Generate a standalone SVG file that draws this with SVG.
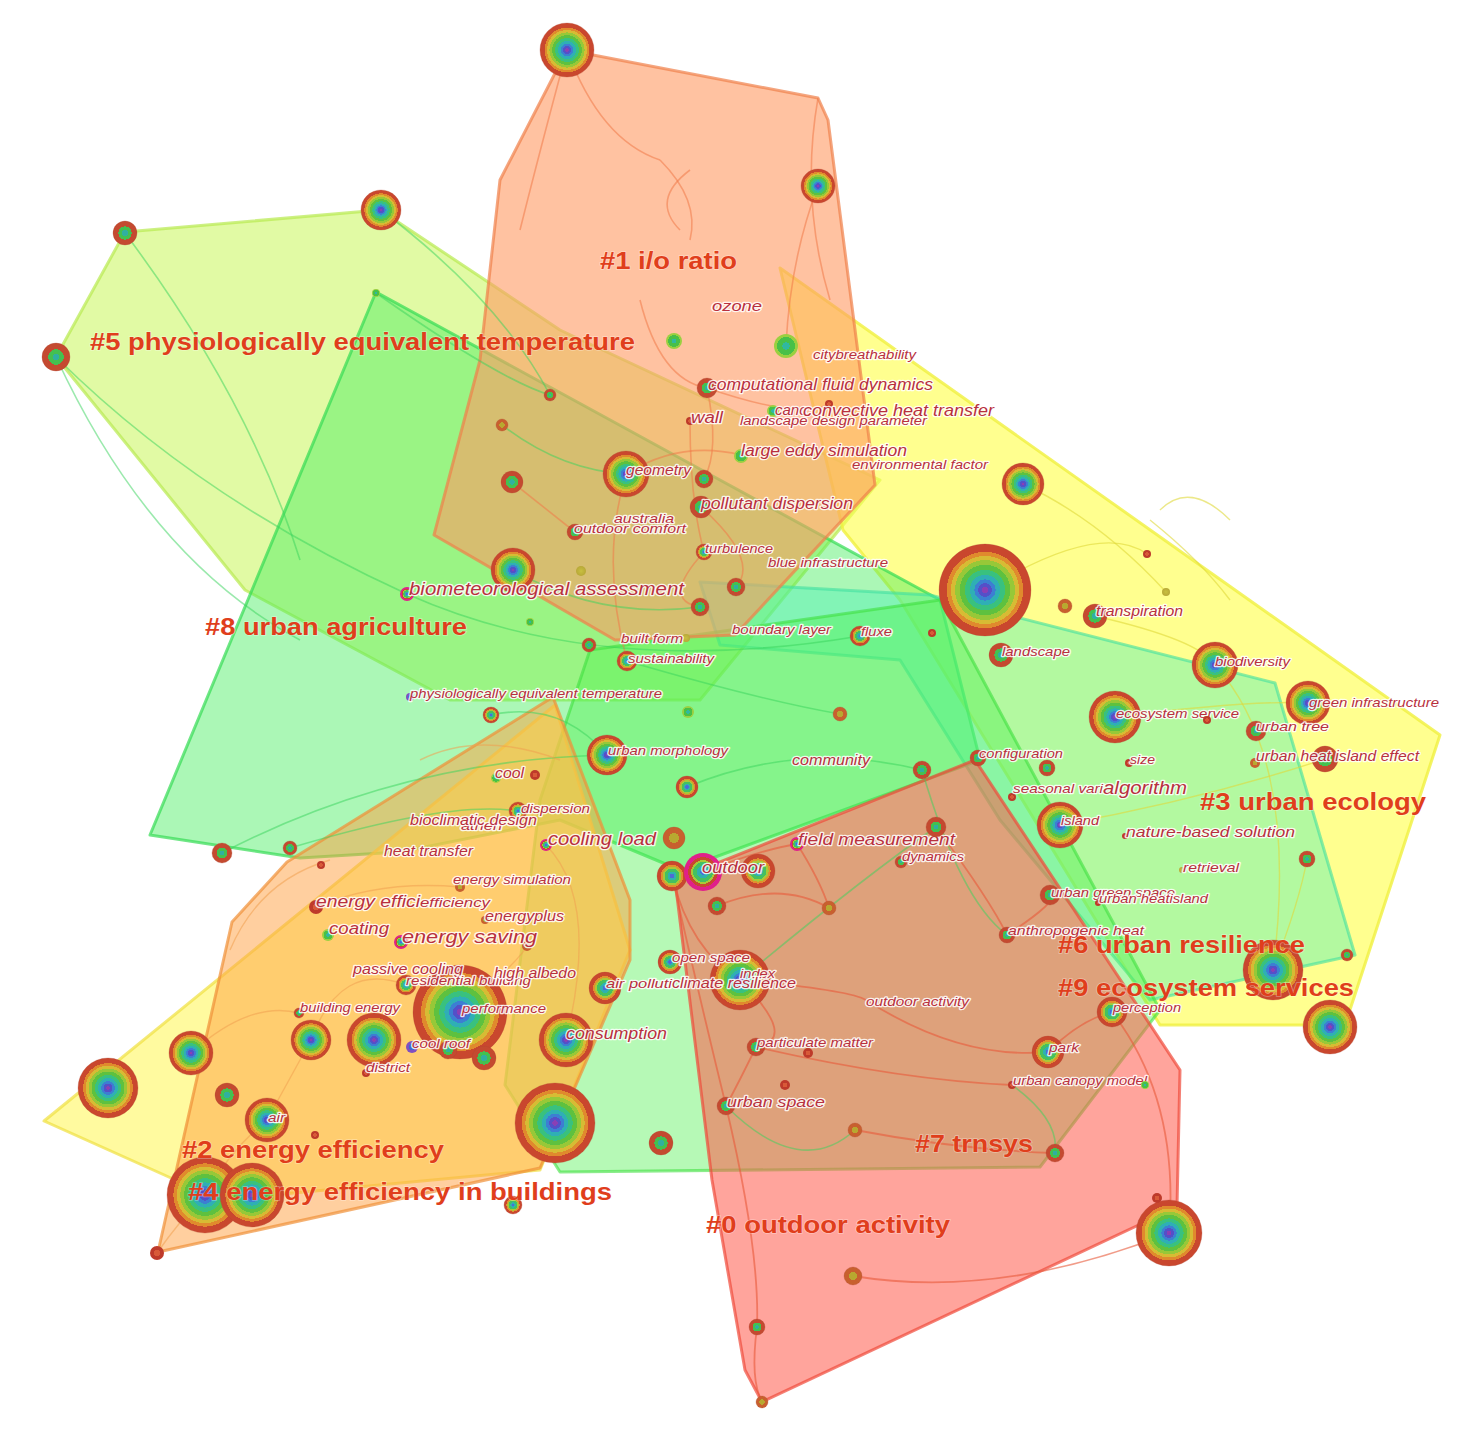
<svg xmlns="http://www.w3.org/2000/svg" width="1484" height="1451" viewBox="0 0 1484 1451">
<defs>
<style>
.nl{font-family:"Liberation Sans",Arial,sans-serif;font-style:italic;fill:#B8303E;stroke:#ffffff;stroke-opacity:.85;stroke-width:2.6px;paint-order:stroke;stroke-linejoin:round}
.cl{font-family:"Liberation Sans",Arial,sans-serif;font-weight:bold;font-size:24px;fill:#E03E1C;stroke:#ffffff;stroke-opacity:.35;stroke-width:1.5px;paint-order:stroke}
.poly{stroke-width:3;stroke-linejoin:round}
.lo{fill:none;stroke:#F07A48;stroke-opacity:.55;stroke-width:1.6}
.lg{fill:none;stroke:#38D45C;stroke-opacity:.5;stroke-width:1.6}
.ly{fill:none;stroke:#E0D83A;stroke-opacity:.6;stroke-width:1.4}
.lr{fill:none;stroke:#E85A3A;stroke-opacity:.6;stroke-width:1.8}
.la{fill:none;stroke:#F0A050;stroke-opacity:.55;stroke-width:1.4}
.nd{stroke:#B04030;stroke-opacity:.35;stroke-width:.8}
</style>
<radialGradient id="gBig">
<stop offset="0" stop-color="#8A3FB5"/><stop offset=".07" stop-color="#8A3FB5"/>
<stop offset=".07" stop-color="#5450C8"/><stop offset=".15" stop-color="#5450C8"/>
<stop offset=".15" stop-color="#3C7FD2"/><stop offset=".23" stop-color="#3C7FD2"/>
<stop offset=".23" stop-color="#2FAFB5"/><stop offset=".33" stop-color="#2FAFB5"/>
<stop offset=".33" stop-color="#39C17E"/><stop offset=".44" stop-color="#39C17E"/>
<stop offset=".44" stop-color="#5EC13F"/><stop offset=".55" stop-color="#5EC13F"/>
<stop offset=".55" stop-color="#97C838"/><stop offset=".65" stop-color="#97C838"/>
<stop offset=".65" stop-color="#D7BB34"/><stop offset=".74" stop-color="#D7BB34"/>
<stop offset=".74" stop-color="#E08A2D"/><stop offset=".83" stop-color="#E08A2D"/>
<stop offset=".83" stop-color="#C9472E"/><stop offset="1" stop-color="#C9472E"/>
</radialGradient>
<radialGradient id="gMid">
<stop offset="0" stop-color="#4D6BD6"/><stop offset=".15" stop-color="#4D6BD6"/>
<stop offset=".15" stop-color="#2FB0B0"/><stop offset=".3" stop-color="#2FB0B0"/>
<stop offset=".3" stop-color="#45C060"/><stop offset=".5" stop-color="#45C060"/>
<stop offset=".5" stop-color="#A8C838"/><stop offset=".62" stop-color="#A8C838"/>
<stop offset=".62" stop-color="#E0902E"/><stop offset=".74" stop-color="#E0902E"/>
<stop offset=".74" stop-color="#C9472E"/><stop offset="1" stop-color="#C9472E"/>
</radialGradient>
<radialGradient id="gMag">
<stop offset="0" stop-color="#4D6BD6"/><stop offset=".15" stop-color="#4D6BD6"/>
<stop offset=".15" stop-color="#2FB0B0"/><stop offset=".32" stop-color="#2FB0B0"/>
<stop offset=".32" stop-color="#45C060"/><stop offset=".52" stop-color="#45C060"/>
<stop offset=".52" stop-color="#A8C838"/><stop offset=".62" stop-color="#A8C838"/>
<stop offset=".62" stop-color="#C9472E"/><stop offset=".78" stop-color="#C9472E"/>
<stop offset=".78" stop-color="#E0208A"/><stop offset="1" stop-color="#E0208A"/>
</radialGradient>
<radialGradient id="gSmall">
<stop offset="0" stop-color="#30B0A0"/><stop offset=".25" stop-color="#30B0A0"/>
<stop offset=".25" stop-color="#44C050"/><stop offset=".55" stop-color="#44C050"/>
<stop offset=".55" stop-color="#C44A30"/><stop offset="1" stop-color="#C44A30"/>
</radialGradient>
<radialGradient id="gGreen">
<stop offset="0" stop-color="#30B8A0"/><stop offset=".3" stop-color="#30B8A0"/>
<stop offset=".3" stop-color="#48C048"/><stop offset=".75" stop-color="#48C048"/>
<stop offset=".75" stop-color="#9AD040"/><stop offset="1" stop-color="#9AD040"/>
</radialGradient>
<radialGradient id="gRed">
<stop offset="0" stop-color="#D85A38"/><stop offset=".5" stop-color="#D85A38"/>
<stop offset=".5" stop-color="#BE3A2A"/><stop offset="1" stop-color="#BE3A2A"/>
</radialGradient>
<radialGradient id="gOrange">
<stop offset="0" stop-color="#B8A830"/><stop offset=".45" stop-color="#B8A830"/>
<stop offset=".45" stop-color="#C8602E"/><stop offset="1" stop-color="#C8602E"/>
</radialGradient>
<radialGradient id="gOlive">
<stop offset="0" stop-color="#C8C040"/><stop offset="1" stop-color="#B8A838"/>
</radialGradient>
<radialGradient id="gBlue">
<stop offset="0" stop-color="#3C68D0"/><stop offset=".5" stop-color="#3C68D0"/>
<stop offset=".5" stop-color="#8050C0"/><stop offset="1" stop-color="#8050C0"/>
</radialGradient>
</defs>
<rect width="1484" height="1451" fill="#ffffff"/>

<g id="clusters">
<g id="cluster-5"><polygon class="poly" fill="#C8F55A" fill-opacity=".55" stroke="#B8EA50" stroke-opacity=".7" points="125,232 380,210 560,330 880,480 700,700 450,700 245,590 56,357"/></g>
<g id="cluster-3"><polygon class="poly" fill="#FFFF4A" fill-opacity=".62" stroke="#F0F040" stroke-opacity=".8" points="780,268 1440,735 1345,1025 1160,1025 900,600 843,530"/></g>
<g id="cluster-8"><polygon class="poly" fill="#44EE5E" fill-opacity=".45" stroke="#34DC54" stroke-opacity=".7" points="376,292 720,480 940,600 980,760 680,870 560,820 400,852 300,858 150,835"/></g>
<g id="cluster-6"><polygon class="poly" fill="#4AF0B8" fill-opacity=".42" stroke="#40E0A0" stroke-opacity=".6" points="700,582 930,595 1275,683 1355,955 1150,1000 1000,820 900,660 720,645"/></g>
<g id="cluster-7"><polygon class="poly" fill="#50F050" fill-opacity=".42" stroke="#40E040" stroke-opacity=".6" points="590,650 940,600 1160,1010 1040,1167 560,1172 505,1085 540,800"/></g>
<g id="cluster-4"><polygon class="poly" fill="#FFF550" fill-opacity=".55" stroke="#F0E040" stroke-opacity=".7" points="44,1121 555,705 630,950 540,1170 220,1200"/></g>
<g id="cluster-2"><polygon class="poly" fill="#FFA040" fill-opacity=".5" stroke="#F09038" stroke-opacity=".7" points="232,922 287,862 553,697 630,900 630,960 540,1168 158,1252"/></g>
<g id="cluster-0"><polygon class="poly" fill="#FF5A4A" fill-opacity=".55" stroke="#F04A3A" stroke-opacity=".7" points="675,880 975,760 1180,1070 1177,1207 762,1402 745,1370 712,1180"/></g>
<g id="cluster-1"><polygon class="poly" fill="#FF9A62" fill-opacity=".6" stroke="#F0804A" stroke-opacity=".7" points="567,50 818,98 828,120 875,485 735,635 615,640 434,535 480,360 500,180"/></g>
</g>

<g id="connectors">
<path class="lo" d="M567,50 Q540,150 520,230"/>
<path class="lo" d="M567,50 Q600,140 660,160"/>
<path class="lo" d="M660,160 Q700,200 690,240"/>
<path class="lo" d="M690,170 Q650,200 680,230"/>
<path class="lo" d="M640,300 Q660,380 707,388"/>
<path class="lo" d="M707,388 Q720,450 704,479"/>
<path class="lo" d="M626,474 Q680,440 741,455"/>
<path class="lo" d="M701,507 Q760,560 736,587"/>
<path class="lo" d="M818,186 Q790,260 786,346"/>
<path class="lo" d="M707,388 Q800,420 829,404"/>
<path class="lo" d="M512,482 Q560,520 575,532"/>
<path class="lo" d="M626,474 Q600,560 627,661"/>
<path class="lo" d="M704,552 Q660,600 700,607"/>
<path class="lo" d="M690,421 Q690,500 704,552"/>
<path class="lo" d="M818,98 Q800,200 830,300"/>
<path class="lg" d="M376,293 Q500,380 550,395"/>
<path class="lg" d="M502,425 Q560,470 626,474"/>
<path class="lg" d="M56,357 Q200,500 407,594"/>
<path class="lg" d="M125,233 Q250,400 300,560"/>
<path class="lg" d="M381,210 Q500,300 550,395"/>
<path class="lg" d="M513,570 Q600,620 700,607"/>
<path class="lg" d="M491,715 Q560,700 607,755"/>
<path class="lg" d="M407,594 Q600,680 860,636"/>
<path class="lg" d="M627,661 Q760,700 840,714"/>
<path class="lg" d="M222,853 Q400,760 607,755"/>
<path class="lg" d="M687,787 Q800,740 922,770"/>
<path class="lg" d="M290,848 Q450,800 518,811"/>
<path class="lg" d="M56,357 Q150,560 300,640"/>
<path class="lg" d="M740,980 Q860,880 936,827"/>
<path class="lg" d="M922,770 Q960,900 1007,935"/>
<path class="lg" d="M726,1106 Q800,1180 855,1130"/>
<path class="lg" d="M1012,1085 Q1060,1120 1055,1153"/>
<path class="ly" d="M985,590 Q1100,520 1147,554"/>
<path class="ly" d="M1023,484 Q1100,520 1166,592"/>
<path class="ly" d="M1095,616 Q1200,640 1215,665"/>
<path class="ly" d="M1115,717 Q1250,700 1308,703"/>
<path class="ly" d="M1060,825 Q1200,800 1325,759"/>
<path class="ly" d="M1273,970 Q1300,900 1307,859"/>
<path class="ly" d="M1150,520 Q1200,560 1230,600"/>
<path class="ly" d="M1160,510 Q1190,480 1230,520"/>
<path class="ly" d="M1215,665 Q1300,760 1273,970"/>
<path class="lr" d="M672,876 Q690,950 740,980"/>
<path class="lr" d="M703,872 Q760,850 797,844"/>
<path class="lr" d="M797,844 Q820,880 829,908"/>
<path class="lr" d="M717,906 Q780,880 829,908"/>
<path class="lr" d="M740,980 Q800,1040 756,1047"/>
<path class="lr" d="M756,1047 Q740,1080 726,1106"/>
<path class="lr" d="M726,1106 Q760,1250 757,1327"/>
<path class="lr" d="M757,1327 Q750,1380 762,1402"/>
<path class="lr" d="M866,1000 Q960,1060 1048,1052"/>
<path class="lr" d="M1048,1052 Q1080,1020 1112,1012"/>
<path class="lr" d="M1112,1012 Q1180,1100 1169,1233"/>
<path class="lr" d="M855,1130 Q960,1150 1055,1153"/>
<path class="lr" d="M740,980 Q850,990 866,1000"/>
<path class="lr" d="M756,1047 Q900,1080 1012,1085"/>
<path class="lr" d="M672,876 Q700,1000 726,1106"/>
<path class="lr" d="M1007,935 Q1060,900 1050,895"/>
<path class="lr" d="M936,827 Q990,900 1007,935"/>
<path class="lr" d="M1169,1233 Q1000,1300 853,1276"/>
<path class="la" d="M316,907 Q380,880 460,887"/>
<path class="la" d="M311,1040 Q340,960 406,985"/>
<path class="la" d="M460,1012 Q520,960 527,946"/>
<path class="la" d="M267,1120 Q300,1060 311,1040"/>
<path class="la" d="M191,1053 Q250,1000 299,1013"/>
<path class="la" d="M205,1195 Q230,1150 267,1120"/>
<path class="la" d="M157,1253 Q180,1220 205,1195"/>
<path class="la" d="M230,950 Q260,880 330,860"/>
<path class="la" d="M420,760 Q480,730 560,760"/>
<path class="la" d="M546,845 Q600,900 566,1040"/>
</g>

<g id="nodes">
<g id="n1"><circle class="nd" cx="567" cy="50" r="27" fill="url(#gBig)"/></g>
<g id="n2"><circle class="nd" cx="818" cy="186" r="17" fill="url(#gBig)"/></g>
<g id="n3"><circle class="nd" cx="381" cy="210" r="20" fill="url(#gBig)"/></g>
<g id="n4"><circle class="nd" cx="125" cy="233" r="12" fill="url(#gSmall)"/></g>
<g id="n5"><circle class="nd" cx="56" cy="357" r="14" fill="url(#gSmall)"/></g>
<g id="n6"><circle cx="376" cy="293" r="4" fill="url(#gGreen)"/></g>
<g id="n7"><circle cx="674" cy="341" r="8" fill="url(#gGreen)"/></g>
<g id="n8"><circle cx="786" cy="346" r="12" fill="url(#gGreen)"/></g>
<g id="n-ozone"><text class="nl" x="712" y="311" font-size="15" textLength="50" lengthAdjust="spacingAndGlyphs">ozone</text></g>
<g id="n-citybreathability"><text class="nl" x="813" y="359" font-size="12.5" textLength="103" lengthAdjust="spacingAndGlyphs">citybreathability</text></g>
<g id="n9"><circle class="nd" cx="707" cy="388" r="10" fill="url(#gSmall)"/><text class="nl" x="708" y="390" font-size="16.5" textLength="225" lengthAdjust="spacingAndGlyphs">computational fluid dynamics</text></g>
<g id="n11"><circle cx="829" cy="404" r="4" fill="url(#gRed)"/></g>
<g id="n12"><circle cx="773" cy="411" r="6" fill="url(#gGreen)"/><text class="nl" x="775" y="415" font-size="15">canc</text></g>
<g id="n-convective"><text class="nl" x="803" y="416" font-size="16.5" textLength="191" lengthAdjust="spacingAndGlyphs">convective heat transfer</text></g>
<g id="n10"><circle cx="690" cy="421" r="4" fill="url(#gRed)"/><text class="nl" x="691" y="423" font-size="16" textLength="32" lengthAdjust="spacingAndGlyphs">wall</text></g>
<g id="n-ldp"><text class="nl" x="740" y="425" font-size="12.5" textLength="187" lengthAdjust="spacingAndGlyphs">landscape design parameter</text></g>
<g id="n13"><circle cx="741" cy="456" r="7" fill="url(#gGreen)"/><text class="nl" x="741" y="456" font-size="16" textLength="166" lengthAdjust="spacingAndGlyphs">large eddy simulation</text></g>
<g id="n-envfactor"><text class="nl" x="852" y="469" font-size="13" textLength="136" lengthAdjust="spacingAndGlyphs">environmental factor</text></g>
<g id="n14"><circle class="nd" cx="550" cy="395" r="6" fill="url(#gSmall)"/></g>
<g id="n15"><circle class="nd" cx="502" cy="425" r="6" fill="url(#gOrange)"/></g>
<g id="n16"><circle class="nd" cx="512" cy="482" r="11" fill="url(#gSmall)"/></g>
<g id="n17"><circle class="nd" cx="626" cy="474" r="23" fill="url(#gBig)"/><text class="nl" x="626" y="475" font-size="14" textLength="65" lengthAdjust="spacingAndGlyphs">geometry</text></g>
<g id="n18"><circle class="nd" cx="704" cy="479" r="9" fill="url(#gSmall)"/></g>
<g id="n19"><circle class="nd" cx="701" cy="507" r="11" fill="url(#gSmall)"/><text class="nl" x="701" y="509" font-size="16" textLength="152" lengthAdjust="spacingAndGlyphs">pollutant dispersion</text></g>
<g id="n20"><circle class="nd" cx="1023" cy="484" r="21" fill="url(#gBig)"/></g>
<g id="n-australia"><text class="nl" x="614" y="523" font-size="13" textLength="60" lengthAdjust="spacingAndGlyphs">australia</text></g>
<g id="n21"><circle class="nd" cx="575" cy="532" r="8" fill="url(#gSmall)"/><text class="nl" x="574" y="533" font-size="13" textLength="112" lengthAdjust="spacingAndGlyphs">outdoor comfort</text></g>
<g id="n22"><circle class="nd" cx="704" cy="552" r="8" fill="url(#gMid)"/><text class="nl" x="705" y="553" font-size="13" textLength="68" lengthAdjust="spacingAndGlyphs">turbulence</text></g>
<g id="n-blueinfra"><text class="nl" x="768" y="567" font-size="13" textLength="120" lengthAdjust="spacingAndGlyphs">blue infrastructure</text></g>
<g id="n23"><circle class="nd" cx="513" cy="570" r="22" fill="url(#gBig)"/></g>
<g id="n24"><circle cx="581" cy="571" r="5" fill="url(#gOlive)"/></g>
<g id="n25"><circle class="nd" cx="736" cy="587" r="9" fill="url(#gSmall)"/></g>
<g id="n26"><circle class="nd" cx="700" cy="607" r="9" fill="url(#gSmall)"/></g>
<g id="n27"><circle cx="407" cy="594" r="7" fill="url(#gMag)"/><text class="nl" x="409" y="595" font-size="18" textLength="275" lengthAdjust="spacingAndGlyphs">biometeorological assessment</text></g>
<g id="n28"><circle cx="530" cy="622" r="4" fill="url(#gGreen)"/></g>
<g id="n29"><circle class="nd" cx="589" cy="645" r="7" fill="url(#gSmall)"/></g>
<g id="n31"><circle cx="686" cy="638" r="4" fill="url(#gOlive)"/><text class="nl" x="621" y="643" font-size="13" textLength="62" lengthAdjust="spacingAndGlyphs">built form</text></g>
<g id="n-boundary"><text class="nl" x="732" y="634" font-size="13" textLength="99" lengthAdjust="spacingAndGlyphs">boundary layer</text></g>
<g id="n30"><circle class="nd" cx="627" cy="661" r="10" fill="url(#gMid)"/><text class="nl" x="628" y="663" font-size="13" textLength="86" lengthAdjust="spacingAndGlyphs">sustainability</text></g>
<g id="n32"><circle class="nd" cx="860" cy="636" r="10" fill="url(#gMid)"/><text class="nl" x="861" y="636" font-size="13" textLength="31" lengthAdjust="spacingAndGlyphs">fluxe</text></g>
<g id="n33"><circle cx="932" cy="633" r="4" fill="url(#gRed)"/></g>
<g id="n34"><circle class="nd" cx="985" cy="590" r="46" fill="url(#gBig)"/></g>
<g id="n35"><circle class="nd" cx="1065" cy="606" r="7" fill="url(#gOrange)"/></g>
<g id="n36"><circle class="nd" cx="1095" cy="616" r="12" fill="url(#gSmall)"/><text class="nl" x="1096" y="616" font-size="14" textLength="87" lengthAdjust="spacingAndGlyphs">transpiration</text></g>
<g id="n37"><circle cx="1147" cy="554" r="4" fill="url(#gRed)"/></g>
<g id="n38"><circle cx="1166" cy="592" r="4" fill="url(#gOlive)"/></g>
<g id="n39"><circle class="nd" cx="1001" cy="655" r="12" fill="url(#gSmall)"/><text class="nl" x="1002" y="656" font-size="13" textLength="68" lengthAdjust="spacingAndGlyphs">landscape</text></g>
<g id="n40"><circle class="nd" cx="1215" cy="665" r="23" fill="url(#gBig)"/><text class="nl" x="1215" y="666" font-size="13" textLength="75" lengthAdjust="spacingAndGlyphs">biodiversity</text></g>
<g id="n41"><circle class="nd" cx="1115" cy="717" r="26" fill="url(#gBig)"/><text class="nl" x="1116" y="718" font-size="13" textLength="123" lengthAdjust="spacingAndGlyphs">ecosystem service</text></g>
<g id="n42"><circle cx="1207" cy="720" r="4" fill="url(#gRed)"/></g>
<g id="n43"><circle class="nd" cx="1308" cy="703" r="22" fill="url(#gBig)"/><text class="nl" x="1309" y="707" font-size="13" textLength="130" lengthAdjust="spacingAndGlyphs">green infrastructure</text></g>
<g id="n44"><circle class="nd" cx="1256" cy="731" r="10" fill="url(#gSmall)"/><text class="nl" x="1256" y="731" font-size="13.5" textLength="73" lengthAdjust="spacingAndGlyphs">urban tree</text></g>
<g id="n46"><circle class="nd" cx="1325" cy="759" r="13" fill="url(#gSmall)"/></g>
<g id="n45"><circle cx="1255" cy="763" r="5" fill="url(#gOrange)"/><text class="nl" x="1256" y="761" font-size="14" textLength="163" lengthAdjust="spacingAndGlyphs">urban heat island effect</text></g>
<g id="n47"><circle class="nd" cx="978" cy="758" r="8" fill="url(#gSmall)"/><text class="nl" x="979" y="758" font-size="13" textLength="84" lengthAdjust="spacingAndGlyphs">configuration</text></g>
<g id="n48"><circle class="nd" cx="1047" cy="768" r="8" fill="url(#gSmall)"/></g>
<g id="n49"><circle cx="1129" cy="763" r="4" fill="url(#gRed)"/><text class="nl" x="1130" y="764" font-size="13" textLength="25" lengthAdjust="spacingAndGlyphs">size</text></g>
<g id="n50"><circle cx="1012" cy="797" r="4" fill="url(#gRed)"/><text class="nl" x="1013" y="793" font-size="13" textLength="90" lengthAdjust="spacingAndGlyphs">seasonal vari</text></g>
<g id="n-algorithm"><text class="nl" x="1103" y="794" font-size="18" textLength="84" lengthAdjust="spacingAndGlyphs">algorithm</text></g>
<g id="n51"><circle class="nd" cx="1060" cy="825" r="23" fill="url(#gBig)"/><text class="nl" x="1061" y="825" font-size="13" textLength="38" lengthAdjust="spacingAndGlyphs">island</text></g>
<g id="n52"><circle cx="1125" cy="836" r="3" fill="url(#gRed)"/><text class="nl" x="1126" y="837" font-size="15" textLength="169" lengthAdjust="spacingAndGlyphs">nature-based solution</text></g>
<g id="n53"><circle class="nd" cx="1307" cy="859" r="8" fill="url(#gSmall)"/></g>
<g id="n54"><circle cx="1182" cy="870" r="3" fill="url(#gOlive)"/><text class="nl" x="1183" y="872" font-size="13" textLength="56" lengthAdjust="spacingAndGlyphs">retrieval</text></g>
<g id="n55"><circle class="nd" cx="1050" cy="895" r="10" fill="url(#gSmall)"/><text class="nl" x="1051" y="897" font-size="13" textLength="124" lengthAdjust="spacingAndGlyphs">urban green space</text></g>
<g id="n56"><circle cx="1098" cy="903" r="3" fill="url(#gRed)"/><text class="nl" x="1099" y="903" font-size="13" textLength="109" lengthAdjust="spacingAndGlyphs">urban heatisland</text></g>
<g id="n57"><circle class="nd" cx="1007" cy="935" r="8" fill="url(#gSmall)"/><text class="nl" x="1008" y="935" font-size="13" textLength="136" lengthAdjust="spacingAndGlyphs">anthropogenic heat</text></g>
<g id="n58"><circle class="nd" cx="1273" cy="970" r="30" fill="url(#gBig)"/></g>
<g id="n59"><circle class="nd" cx="1347" cy="955" r="6" fill="url(#gSmall)"/></g>
<g id="n60"><circle class="nd" cx="1330" cy="1027" r="27" fill="url(#gBig)"/></g>
<g id="n61"><circle class="nd" cx="1112" cy="1012" r="15" fill="url(#gMid)"/><text class="nl" x="1113" y="1012" font-size="13" textLength="68" lengthAdjust="spacingAndGlyphs">perception</text></g>
<g id="n62"><circle class="nd" cx="1048" cy="1052" r="16" fill="url(#gMid)"/><text class="nl" x="1049" y="1052" font-size="13" textLength="30" lengthAdjust="spacingAndGlyphs">park</text></g>
<g id="n63"><circle cx="1012" cy="1085" r="4" fill="url(#gRed)"/><text class="nl" x="1013" y="1085" font-size="13" textLength="134" lengthAdjust="spacingAndGlyphs">urban canopy model</text></g>
<g id="n64"><circle cx="1145" cy="1085" r="4" fill="url(#gGreen)"/></g>
<g id="n65"><circle class="nd" cx="1169" cy="1233" r="33" fill="url(#gBig)"/></g>
<g id="n66"><circle cx="1157" cy="1198" r="5" fill="url(#gRed)"/></g>
<g id="n67"><circle class="nd" cx="853" cy="1276" r="9" fill="url(#gOrange)"/></g>
<g id="n68"><circle class="nd" cx="762" cy="1402" r="6" fill="url(#gOrange)"/></g>
<g id="n69"><circle class="nd" cx="757" cy="1327" r="8" fill="url(#gSmall)"/></g>
<g id="n70"><circle class="nd" cx="1055" cy="1153" r="9" fill="url(#gSmall)"/></g>
<g id="n71"><circle class="nd" cx="855" cy="1130" r="7" fill="url(#gOrange)"/></g>
<g id="n-outdooractivity"><text class="nl" x="866" y="1006" font-size="13" textLength="103" lengthAdjust="spacingAndGlyphs">outdoor activity</text></g>
<g id="n72"><circle class="nd" cx="726" cy="1106" r="9" fill="url(#gSmall)"/><text class="nl" x="727" y="1107" font-size="15.5" textLength="98" lengthAdjust="spacingAndGlyphs">urban space</text></g>
<g id="n73"><circle cx="785" cy="1085" r="5" fill="url(#gRed)"/></g>
<g id="n74"><circle class="nd" cx="756" cy="1047" r="9" fill="url(#gSmall)"/><text class="nl" x="757" y="1047" font-size="13" textLength="116" lengthAdjust="spacingAndGlyphs">particulate matter</text></g>
<g id="n75"><circle cx="808" cy="1053" r="5" fill="url(#gRed)"/></g>
<g id="n76"><circle class="nd" cx="740" cy="980" r="30" fill="url(#gBig)"/><text class="nl" x="740" y="978" font-size="13" textLength="35" lengthAdjust="spacingAndGlyphs">index</text></g>
<g id="n77"><circle class="nd" cx="670" cy="962" r="12" fill="url(#gMid)"/><text class="nl" x="672" y="962" font-size="13" textLength="78" lengthAdjust="spacingAndGlyphs">open space</text></g>
<g id="n78"><circle class="nd" cx="605" cy="988" r="16" fill="url(#gMid)"/><text class="nl" x="606" y="988" font-size="13" textLength="66" lengthAdjust="spacingAndGlyphs">air polluti</text></g>
<g id="n-climate"><text class="nl" x="672" y="988" font-size="14" textLength="124" lengthAdjust="spacingAndGlyphs">climate resilience</text></g>
<g id="n79"><circle class="nd" cx="717" cy="906" r="9" fill="url(#gSmall)"/></g>
<g id="n80"><circle class="nd" cx="829" cy="908" r="7" fill="url(#gOrange)"/></g>
<g id="n81"><circle class="nd" cx="672" cy="876" r="15" fill="url(#gMid)"/></g>
<g id="n83"><circle class="nd" cx="758" cy="871" r="17" fill="url(#gMid)"/></g>
<g id="n82"><circle cx="703" cy="872" r="19" fill="url(#gMag)"/><text class="nl" x="702" y="873" font-size="16" textLength="62" lengthAdjust="spacingAndGlyphs">outdoor</text></g>
<g id="n84"><circle cx="797" cy="844" r="7" fill="url(#gMag)"/><text class="nl" x="798" y="845" font-size="17" textLength="157" lengthAdjust="spacingAndGlyphs">field measurement</text></g>
<g id="n85"><circle class="nd" cx="901" cy="862" r="6" fill="url(#gSmall)"/><text class="nl" x="902" y="861" font-size="13" textLength="62" lengthAdjust="spacingAndGlyphs">dynamics</text></g>
<g id="n86"><circle class="nd" cx="936" cy="827" r="10" fill="url(#gSmall)"/></g>
<g id="n87"><circle class="nd" cx="922" cy="770" r="9" fill="url(#gSmall)"/></g>
<g id="n88"><circle class="nd" cx="840" cy="714" r="7" fill="url(#gOrange)"/></g>
<g id="n-community"><text class="nl" x="792" y="765" font-size="14" textLength="78" lengthAdjust="spacingAndGlyphs">community</text></g>
<g id="n89"><circle class="nd" cx="687" cy="787" r="11" fill="url(#gMid)"/></g>
<g id="n90"><circle class="nd" cx="607" cy="755" r="20" fill="url(#gBig)"/><text class="nl" x="608" y="755" font-size="13" textLength="120" lengthAdjust="spacingAndGlyphs">urban morphology</text></g>
<g id="n91"><circle cx="688" cy="712" r="6" fill="url(#gGreen)"/></g>
<g id="n92"><circle class="nd" cx="491" cy="715" r="8" fill="url(#gMid)"/></g>
<g id="n93"><circle cx="410" cy="697" r="4" fill="url(#gBlue)"/><text class="nl" x="410" y="698" font-size="13" textLength="252" lengthAdjust="spacingAndGlyphs">physiologically equivalent temperature</text></g>
<g id="n94"><circle cx="496" cy="778" r="5" fill="url(#gGreen)"/><text class="nl" x="495" y="778" font-size="14" textLength="29" lengthAdjust="spacingAndGlyphs">cool</text></g>
<g id="n95"><circle cx="535" cy="775" r="5" fill="url(#gRed)"/></g>
<g id="n96"><circle class="nd" cx="518" cy="811" r="9" fill="url(#gMid)"/><text class="nl" x="521" y="813" font-size="13" textLength="69" lengthAdjust="spacingAndGlyphs">dispersion</text></g>
<g id="n-athen"><text class="nl" x="461" y="830" font-size="12" textLength="41" lengthAdjust="spacingAndGlyphs">athen</text></g>
<g id="n-bioclimatic"><text class="nl" x="410" y="825" font-size="14" textLength="127" lengthAdjust="spacingAndGlyphs">bioclimatic design</text></g>
<g id="n-heattransfer"><text class="nl" x="384" y="856" font-size="14" textLength="89" lengthAdjust="spacingAndGlyphs">heat transfer</text></g>
<g id="n97"><circle cx="546" cy="845" r="6" fill="url(#gMag)"/><text class="nl" x="548" y="845" font-size="18" textLength="108" lengthAdjust="spacingAndGlyphs">cooling load</text></g>
<g id="n98"><circle class="nd" cx="674" cy="838" r="11" fill="url(#gOrange)"/></g>
<g id="n99"><circle class="nd" cx="222" cy="853" r="10" fill="url(#gSmall)"/></g>
<g id="n100"><circle class="nd" cx="290" cy="848" r="7" fill="url(#gSmall)"/></g>
<g id="n101"><circle cx="321" cy="865" r="4" fill="url(#gRed)"/></g>
<g id="n103"><circle cx="460" cy="887" r="5" fill="url(#gOrange)"/><text class="nl" x="453" y="884" font-size="13" textLength="118" lengthAdjust="spacingAndGlyphs">energy simulation</text></g>
<g id="n102"><circle cx="316" cy="907" r="7" fill="url(#gRed)"/><text class="nl" x="316" y="907" font-size="16" textLength="104" lengthAdjust="spacingAndGlyphs">energy effici</text></g>
<g id="n-efficiency"><text class="nl" x="420" y="907" font-size="13" textLength="70" lengthAdjust="spacingAndGlyphs">efficiency</text></g>
<g id="n104"><circle cx="485" cy="920" r="4" fill="url(#gOrange)"/><text class="nl" x="485" y="921" font-size="14" textLength="79" lengthAdjust="spacingAndGlyphs">energyplus</text></g>
<g id="n105"><circle cx="328" cy="935" r="6" fill="url(#gGreen)"/><text class="nl" x="329" y="934" font-size="16" textLength="60" lengthAdjust="spacingAndGlyphs">coating</text></g>
<g id="n107"><circle cx="527" cy="946" r="5" fill="url(#gOrange)"/></g>
<g id="n106"><circle cx="401" cy="942" r="7" fill="url(#gMag)"/><text class="nl" x="402" y="943" font-size="19" textLength="135" lengthAdjust="spacingAndGlyphs">energy saving</text></g>
<g id="n109"><circle class="nd" cx="460" cy="1012" r="47" fill="url(#gBig)"/></g>
<g id="n-passive"><text class="nl" x="353" y="974" font-size="14" textLength="110" lengthAdjust="spacingAndGlyphs">passive cooling</text></g>
<g id="n108"><circle class="nd" cx="406" cy="985" r="10" fill="url(#gMid)"/><text class="nl" x="406" y="985" font-size="13" textLength="125" lengthAdjust="spacingAndGlyphs">residential building</text></g>
<g id="n-highalbedo"><text class="nl" x="494" y="978" font-size="14" textLength="82" lengthAdjust="spacingAndGlyphs">high albedo</text></g>
<g id="n-performance"><text class="nl" x="462" y="1013" font-size="13" textLength="84" lengthAdjust="spacingAndGlyphs">performance</text></g>
<g id="n110"><circle class="nd" cx="299" cy="1013" r="5" fill="url(#gSmall)"/><text class="nl" x="300" y="1012" font-size="13" textLength="100" lengthAdjust="spacingAndGlyphs">building energy</text></g>
<g id="n111"><circle class="nd" cx="311" cy="1040" r="20" fill="url(#gBig)"/></g>
<g id="n112"><circle class="nd" cx="374" cy="1040" r="27" fill="url(#gBig)"/></g>
<g id="n114"><circle class="nd" cx="448" cy="1050" r="9" fill="url(#gSmall)"/></g>
<g id="n115"><circle class="nd" cx="484" cy="1058" r="12" fill="url(#gSmall)"/></g>
<g id="n113"><circle cx="412" cy="1047" r="6" fill="url(#gBlue)"/><text class="nl" x="412" y="1048" font-size="13" textLength="58" lengthAdjust="spacingAndGlyphs">cool roof</text></g>
<g id="n116"><circle cx="366" cy="1073" r="4" fill="url(#gRed)"/><text class="nl" x="366" y="1072" font-size="13" textLength="44" lengthAdjust="spacingAndGlyphs">district</text></g>
<g id="n117"><circle class="nd" cx="566" cy="1040" r="27" fill="url(#gBig)"/><text class="nl" x="566" y="1039" font-size="16" textLength="101" lengthAdjust="spacingAndGlyphs">consumption</text></g>
<g id="n118"><circle class="nd" cx="191" cy="1053" r="22" fill="url(#gBig)"/></g>
<g id="n119"><circle class="nd" cx="108" cy="1088" r="30" fill="url(#gBig)"/></g>
<g id="n120"><circle class="nd" cx="227" cy="1095" r="12" fill="url(#gSmall)"/></g>
<g id="n121"><circle class="nd" cx="267" cy="1120" r="22" fill="url(#gBig)"/><text class="nl" x="268" y="1122" font-size="12" textLength="17" lengthAdjust="spacingAndGlyphs">air</text></g>
<g id="n122"><circle cx="315" cy="1135" r="4" fill="url(#gRed)"/></g>
<g id="n123"><circle class="nd" cx="555" cy="1123" r="40" fill="url(#gBig)"/></g>
<g id="n124"><circle class="nd" cx="661" cy="1143" r="12" fill="url(#gSmall)"/></g>
<g id="n125"><circle class="nd" cx="205" cy="1195" r="38" fill="url(#gBig)"/></g>
<g id="n126"><circle class="nd" cx="252" cy="1195" r="32" fill="url(#gBig)"/></g>
<g id="n127"><circle cx="157" cy="1253" r="7" fill="url(#gRed)"/></g>
<g id="n128"><circle class="nd" cx="513" cy="1205" r="9" fill="url(#gMid)"/></g>
</g>

<g id="cluster-labels">
<text class="cl" x="600" y="269" textLength="137" lengthAdjust="spacingAndGlyphs">#1 i/o ratio</text>
<text class="cl" x="90" y="350" textLength="545" lengthAdjust="spacingAndGlyphs">#5 physiologically equivalent temperature</text>
<text class="cl" x="205" y="635" textLength="262" lengthAdjust="spacingAndGlyphs">#8 urban agriculture</text>
<text class="cl" x="1200" y="810" textLength="226" lengthAdjust="spacingAndGlyphs">#3 urban ecology</text>
<text class="cl" x="1058" y="953" textLength="247" lengthAdjust="spacingAndGlyphs">#6 urban resilience</text>
<text class="cl" x="1058" y="996" textLength="296" lengthAdjust="spacingAndGlyphs">#9 ecosystem services</text>
<text class="cl" x="915" y="1152" textLength="118" lengthAdjust="spacingAndGlyphs">#7 trnsys</text>
<text class="cl" x="182" y="1158" textLength="262" lengthAdjust="spacingAndGlyphs">#2 energy efficiency</text>
<text class="cl" x="188" y="1200" textLength="424" lengthAdjust="spacingAndGlyphs">#4 energy efficiency in buildings</text>
<text class="cl" x="706" y="1233" textLength="244" lengthAdjust="spacingAndGlyphs">#0 outdoor activity</text>
</g>
</svg>
